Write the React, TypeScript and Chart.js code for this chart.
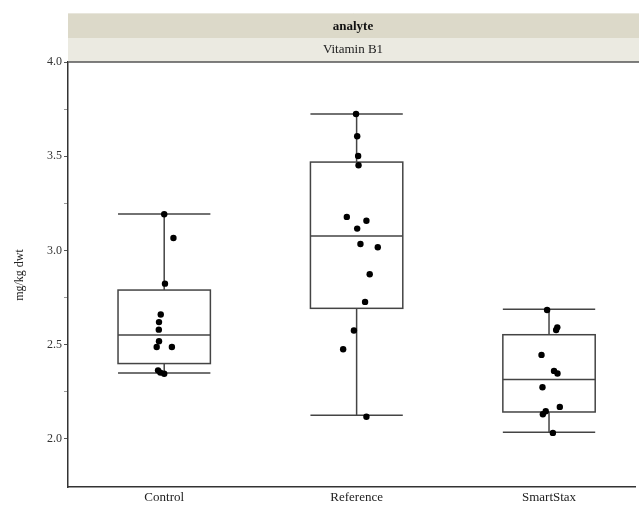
import { useEffect, useRef } from 'react';
import { Chart, registerables } from 'chart.js';

Chart.register(...registerables);

const categories = ['Control', 'Reference', 'SmartStax'];
const stripTitle = 'analyte';
const panelTitle = 'Vitamin B1';
const yAxisTitle = 'mg/kg dwt';

const whiskerLow = [2.35, 2.126, 2.035];
const q1 = [2.4, 2.693, 2.143];
const median = [2.552, 3.077, 2.315];
const q3 = [2.79, 3.469, 2.553];
const whiskerHigh = [3.194, 3.724, 2.688];

const controlValues = [3.192, 3.066, 2.824, 2.66, 2.62, 2.58, 2.518, 2.488, 2.488, 2.364, 2.352, 2.346];
const controlJitter = [0, 0.048, 0.004, -0.018, -0.027, -0.028, -0.027, -0.039, 0.04, -0.032, -0.02, 0];

const referenceValues = [3.724, 3.606, 3.501, 3.452, 3.178, 3.158, 3.116, 3.034, 3.017, 2.874, 2.727, 2.575, 2.476, 2.118];
const referenceJitter = [-0.003, 0.003, 0.008, 0.01, -0.051, 0.051, 0.003, 0.02, 0.11, 0.068, 0.044, -0.014, -0.07, 0.051];

const smartStaxValues = [2.684, 2.578, 2.592, 2.446, 2.361, 2.347, 2.274, 2.17, 2.147, 2.131, 2.032];
const smartStaxJitter = [-0.01, 0.037, 0.043, -0.039, 0.026, 0.044, -0.034, 0.056, -0.017, -0.032, 0.02];

const yTicks = [2.0, 2.25, 2.5, 2.75, 3.0, 3.25, 3.5, 3.75, 4.0];
const yMajorTicks = [2.0, 2.5, 3.0, 3.5, 4.0];
const yMin = 1.745;
const yMax = 4.0;

const FONT = '"Liberation Serif", "Times New Roman", serif';
const LINE = '#444444';

const groupValues = [controlValues, referenceValues, smartStaxValues];
const groupJitter = [controlJitter, referenceJitter, smartStaxJitter];

const boxPlugin = {
  id: 'boxPlugin',
  beforeDatasetsDraw(chart: any) {
    const { ctx } = chart;
    const xs = chart.scales.x;
    const ys = chart.scales.y;
    const half = 0.24;
    ctx.save();
    ctx.strokeStyle = LINE;
    ctx.lineWidth = 1.5;
    for (let i = 0; i < categories.length; i++) {
      const xl = xs.getPixelForValue(i - half);
      const xr = xs.getPixelForValue(i + half);
      const xc = xs.getPixelForValue(i);
      const yLo = ys.getPixelForValue(whiskerLow[i]);
      const yQ1 = ys.getPixelForValue(q1[i]);
      const yMed = ys.getPixelForValue(median[i]);
      const yQ3 = ys.getPixelForValue(q3[i]);
      const yHi = ys.getPixelForValue(whiskerHigh[i]);
      ctx.beginPath();
      ctx.moveTo(xc, yLo); ctx.lineTo(xc, yQ1);
      ctx.moveTo(xc, yQ3); ctx.lineTo(xc, yHi);
      ctx.moveTo(xl, yLo); ctx.lineTo(xr, yLo);
      ctx.moveTo(xl, yHi); ctx.lineTo(xr, yHi);
      ctx.moveTo(xl, yMed); ctx.lineTo(xr, yMed);
      ctx.stroke();
      ctx.strokeRect(xl, yQ3, xr - xl, yQ1 - yQ3);
    }
    ctx.restore();
  },
  afterDraw(chart: any) {
    const { ctx, chartArea } = chart;
    const left = chartArea.left;
    const right = chart.width;
    ctx.save();
    // header strips
    ctx.fillStyle = '#dcd9c9';
    ctx.fillRect(left, 13, right - left, 25);
    ctx.fillStyle = '#ebeae1';
    ctx.fillRect(left, 38, right - left, chartArea.top - 38);
    ctx.strokeStyle = '#e8e6dc';
    ctx.lineWidth = 1;
    ctx.beginPath();
    ctx.moveTo(left, 13.5); ctx.lineTo(right, 13.5);
    ctx.stroke();
    const cx = (left + right) / 2 - 0.5;
    ctx.fillStyle = '#111';
    ctx.textAlign = 'center';
    ctx.textBaseline = 'middle';
    ctx.font = `bold 13px ${FONT}`;
    ctx.fillText(stripTitle, cx, 27);
    ctx.font = `13px ${FONT}`;
    ctx.fillStyle = '#222';
    ctx.fillText(panelTitle, cx, 50);
    // top border of plot
    ctx.strokeStyle = '#555';
    ctx.lineWidth = 1.5;
    ctx.beginPath();
    ctx.moveTo(left, chartArea.top); ctx.lineTo(right, chartArea.top);
    ctx.stroke();
    // y title
    ctx.translate(20, 275);
    ctx.rotate(-Math.PI / 2);
    ctx.font = `12px ${FONT}`;
    ctx.fillStyle = '#222';
    ctx.fillText(yAxisTitle, 0, 0);
    ctx.restore();
  },
};

export default function App() {
  const ref = useRef<HTMLCanvasElement | null>(null);
  useEffect(() => {
    if (!ref.current) return;
    const datasets = groupValues.map((vals, gi) => ({
      type: 'scatter' as const,
      data: vals.map((v, k) => ({ x: gi + groupJitter[gi][k], y: v })),
      pointRadius: 3.2,
      pointHoverRadius: 3.2,
      pointBackgroundColor: '#000',
      pointBorderColor: '#000',
      pointBorderWidth: 0,
      showLine: false,
    }));
    const chart = new Chart(ref.current, {
      type: 'scatter',
      data: { datasets },
      options: {
        animation: false,
        responsive: true,
        maintainAspectRatio: false,
        layout: { padding: { left: 0, right: 0, top: 62, bottom: 0 } },
        plugins: { legend: { display: false }, tooltip: { enabled: false } },
        scales: {
          x: {
            type: 'linear',
            min: -0.5,
            max: 2.451,
            afterBuildTicks: (s: any) => { s.ticks = categories.map((_, i) => ({ value: i })); },
            afterFit: (s: any) => { s.height = 19; },
            ticks: {
              callback: (v: any) => categories[Math.round(Number(v))] ?? '',
              font: { family: FONT, size: 13 },
              color: '#222',
              padding: 3,
              maxRotation: 0,
              autoSkip: false,
            },
            grid: { display: false, drawTicks: false, tickLength: 0 },
            border: { display: true, color: '#333', width: 1.5 },
          },
          y: {
            type: 'linear',
            min: yMin,
            max: yMax,
            afterBuildTicks: (s: any) => { s.ticks = yTicks.map((v) => ({ value: v })); },
            afterFit: (s: any) => { s.width = 68; },
            ticks: {
              callback: (v: any) => (yMajorTicks.includes(Number(v)) ? Number(v).toFixed(1) : ''),
              font: { family: FONT, size: 12 },
              color: '#333',
              padding: 2,
              autoSkip: false,
            },
            grid: {
              display: true,
              drawOnChartArea: false,
              drawTicks: true,
              tickLength: 4,
              color: '#555',
              tickColor: (c: any) => (yMajorTicks.includes(c.tick?.value) ? '#555' : '#999'),
            },
            border: { display: true, color: '#333', width: 1.5 },
          },
        },
      },
      plugins: [boxPlugin],
    });
    return () => chart.destroy();
  }, []);
  return (
    <div style={{ position: 'fixed', left: 0, top: 0, width: 639, height: 506, background: '#fff' }}>
      <canvas ref={ref} />
    </div>
  );
}
